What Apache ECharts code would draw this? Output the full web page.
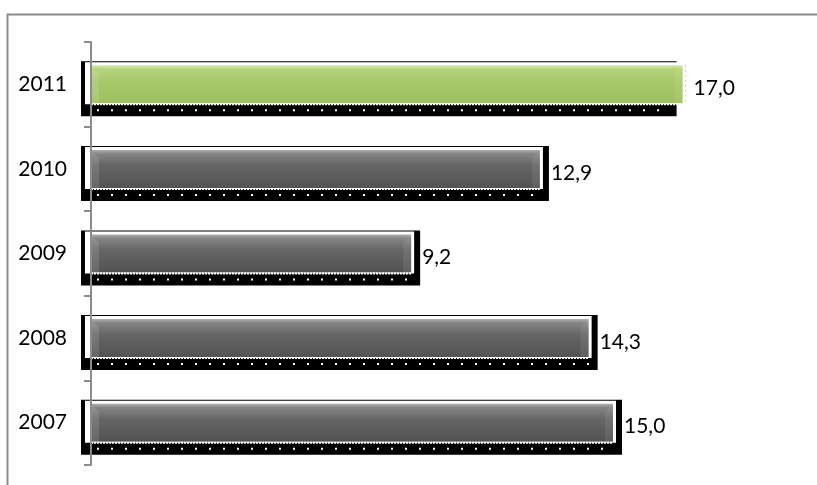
<!DOCTYPE html>
<html lang="en">
<head>
    <meta charset="UTF-8">
    <title>Bars 2007-2011</title>
    <script src="https://cdn.jsdelivr.net/npm/echarts@6/dist/echarts.min.js"></script>
    <style>
        html, body { margin: 0; padding: 0; background: #fff; }
        #container { width: 817px; height: 485px; }
    </style>
</head>
<body>
<div id="container"></div>
<script type="text/javascript">
    var years = ['2007', '2008', '2009', '2010', '2011'];
    var values = [15.0, 14.3, 9.2, 12.9, 17.0];
    var highlightYear = '2011';

    var myChart = echarts.init(document.getElementById('container'));

    var data = [];
    for (var i = 0; i < years.length; i++) {
        data.push([values[i], i]);
    }

    var grayFill = new echarts.graphic.LinearGradient(0, 0, 0, 1, [
        {offset: 0, color: '#b0b0b0'},
        {offset: 0.1, color: '#858585'},
        {offset: 0.4, color: '#666666'},
        {offset: 1, color: '#525252'}
    ]);
    var greenFill = new echarts.graphic.LinearGradient(0, 0, 0, 1, [
        {offset: 0, color: '#d4e9ae'},
        {offset: 0.1, color: '#b6d47e'},
        {offset: 0.4, color: '#a8c96a'},
        {offset: 1, color: '#9ebf5f'}
    ]);

    function renderItem(params, api) {
        var idx = api.value(1);
        var start = api.coord([0, idx]);
        var end = api.coord([api.value(0), idx]);
        var x0 = start[0], x1 = end[0], c = start[1];
        var hi = years[idx] === highlightYear;
        var blackRight = hi ? x1 - 6 : x1 + 9;
        var kids = [
            {type: 'rect', shape: {x: x0 - 10, y: c - 23, width: blackRight - (x0 - 10), height: 55},
                style: {fill: '#000'}},
            {type: 'rect', shape: {x: x0 - 6, y: c - 22, width: x1 + 3 - (x0 - 6), height: 42},
                style: {fill: '#fff'}},
            {type: 'rect', shape: {x: x0 - 1, y: c - 19, width: x1 - x0 + 1, height: 38},
                style: {fill: hi ? greenFill : grayFill}},
            {type: 'polygon', shape: {points: [[x0 - 1, c - 19], [x0 + 8, c - 11], [x0 + 8, c + 19], [x0 - 1, c + 19]]},
                style: {fill: 'rgba(255,255,255,0.12)'}},
            {type: 'polygon', shape: {points: [[x1, c - 19], [x1 - 8, c - 11], [x1 - 8, c + 19], [x1, c + 19]]},
                style: {fill: 'rgba(255,255,255,0.08)'}},
            {type: 'line', shape: {x1: x0, y1: c + 20, x2: x1, y2: c + 20},
                style: {stroke: '#fff', lineWidth: 2, lineDash: [2, 1]}},
            {type: 'line', shape: {x1: x0 + 6, y1: c + 26, x2: blackRight - 8, y2: c + 26},
                style: {stroke: '#fff', lineWidth: 2, lineDash: [2, 12]}},
            {type: 'text', x: x1 + 11, y: c + 4,
                style: {text: values[idx].toFixed(1).replace('.', ','), fill: '#000',
                    font: '21px Lato', verticalAlign: 'middle', align: 'left'}}
        ];
        if (hi) {
            kids.push({type: 'line', shape: {x1: x1 + 3, y1: c - 19, x2: x1 + 3, y2: c + 19},
                style: {stroke: '#999', lineWidth: 1, lineDash: [1, 4]}});
        }
        return {type: 'group', children: kids};
    }

    myChart.setOption({
        animation: false,
        graphic: [{
            type: 'rect', left: 5, top: 12, z: -1,
            shape: {width: 900, height: 600},
            style: {fill: 'none', stroke: '#8c8c8c', lineWidth: 2}
        }],
        grid: {left: 91, top: 42, bottom: 20, right: 30},
        xAxis: {type: 'value', min: 0, max: 20, show: false},
        yAxis: {
            type: 'category',
            data: years,
            z: 10,
            axisLine: {show: true, lineStyle: {color: '#8c8c8c', width: 2}},
            axisTick: {show: true, length: 7, lineStyle: {color: '#8c8c8c', width: 2}},
            axisLabel: {color: '#000', fontSize: 21, fontFamily: 'Lato', margin: 24, padding: [7, 0, 0, 0]}
        },
        series: [{
            type: 'custom',
            renderItem: renderItem,
            encode: {x: 0, y: 1},
            data: data,
            clip: false
        }]
    });
</script>
</body>
</html>
